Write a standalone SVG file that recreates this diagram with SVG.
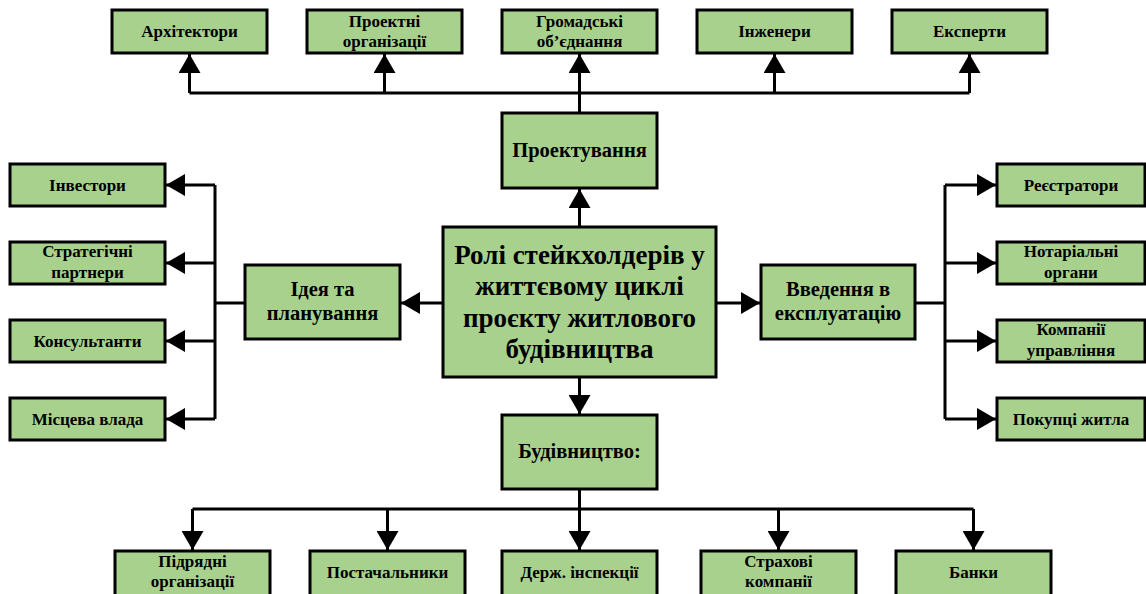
<svg xmlns="http://www.w3.org/2000/svg" width="1146" height="594" viewBox="0 0 1146 594">
<style>
.box{fill:#a9d18e;stroke:#000;stroke-width:3}
.t{font-family:"Liberation Serif","Times New Roman",serif;font-weight:bold;fill:#000;text-anchor:middle}
.s{font-size:17px}
.m{font-size:20.5px}
.c{font-size:27px}
.ln{fill:none;stroke:#000;stroke-width:3}
.ar{fill:none;stroke:#000;stroke-width:3;marker-end:url(#arr)}
</style>
<defs>
<marker id="arr" markerWidth="20" markerHeight="22" refX="19" refY="11" orient="auto" markerUnits="userSpaceOnUse">
<path d="M0,0 L19,11 L0,22 z" fill="#000"/>
</marker>
</defs>
<rect width="1146" height="594" fill="#fff"/>
<g id="connectors">
<path class="ln" d="M579.5,113 V93 M189.5,93 H969.5"/>
<path class="ar" d="M189.5,93 V54"/>
<path class="ar" d="M384.5,93 V54"/>
<path class="ar" d="M579.5,93 V54"/>
<path class="ar" d="M774.5,93 V54"/>
<path class="ar" d="M969.5,93 V54"/>
<path class="ar" d="M579.5,227 V189"/>
<path class="ar" d="M443,303 H401"/>
<path class="ln" d="M245,303 H215 M215,185 V419"/>
<path class="ar" d="M215,185 H166"/>
<path class="ar" d="M215,263 H166"/>
<path class="ar" d="M215,341 H166"/>
<path class="ar" d="M215,419 H166"/>
<path class="ar" d="M716,303 H760"/>
<path class="ln" d="M915,303 H945 M945,185 V419"/>
<path class="ar" d="M945,185 H996"/>
<path class="ar" d="M945,263 H996"/>
<path class="ar" d="M945,341 H996"/>
<path class="ar" d="M945,419 H996"/>
<path class="ar" d="M579.5,377 V414"/>
<path class="ln" d="M579.5,489 V509 M192.5,509 H973.5"/>
<path class="ar" d="M192.5,509 V550"/>
<path class="ar" d="M387.5,509 V550"/>
<path class="ar" d="M579.5,509 V550"/>
<path class="ar" d="M778.5,509 V550"/>
<path class="ar" d="M973.5,509 V550"/>
</g>
<g id="n-center"><rect class="box" x="443" y="227" width="273" height="150"/>
<text class="t c" x="579.5" y="264">Ролі стейкхолдерів у</text>
<text class="t c" x="579.5" y="295">життєвому циклі</text>
<text class="t c" x="579.5" y="327">проєкту житлового</text>
<text class="t c" x="579.5" y="358">будівництва</text></g>
<g id="n-proekt"><rect class="box" x="502" y="113" width="155" height="75"/>
<text class="t m" x="579.5" y="157">Проектування</text></g>
<g id="n-ideia"><rect class="box" x="245" y="265" width="155" height="74"/>
<text class="t m" x="322.5" y="296">Ідея та</text>
<text class="t m" x="322.5" y="320">планування</text></g>
<g id="n-vved"><rect class="box" x="761" y="265" width="154" height="74"/>
<text class="t m" x="838" y="296">Введення в</text>
<text class="t m" x="838" y="320">експлуатацію</text></g>
<g id="n-budiv"><rect class="box" x="502" y="415" width="155" height="74"/>
<text class="t m" x="579.5" y="458">Будівництво:</text></g>
<g id="n-arkh"><rect class="box" x="112" y="10" width="155" height="43"/>
<text class="t s" x="189.5" y="37">Архітектори</text></g>
<g id="n-proektorg"><rect class="box" x="307" y="10" width="155" height="43"/>
<text class="t s" x="384.5" y="27">Проектні</text>
<text class="t s" x="384.5" y="47">організації</text></g>
<g id="n-hromad"><rect class="box" x="502" y="10" width="155" height="43"/>
<text class="t s" x="579.5" y="27">Громадські</text>
<text class="t s" x="579.5" y="47">об’єднання</text></g>
<g id="n-inzh"><rect class="box" x="697" y="10" width="155" height="43"/>
<text class="t s" x="774.5" y="37">Інженери</text></g>
<g id="n-eksp"><rect class="box" x="892" y="10" width="155" height="43"/>
<text class="t s" x="969.5" y="37">Експерти</text></g>
<g id="n-invest"><rect class="box" x="10" y="164" width="155" height="42"/>
<text class="t s" x="87.5" y="191">Інвестори</text></g>
<g id="n-strat"><rect class="box" x="10" y="242" width="155" height="42"/>
<text class="t s" x="87.5" y="257">Стратегічні</text>
<text class="t s" x="87.5" y="278">партнери</text></g>
<g id="n-kons"><rect class="box" x="10" y="320" width="155" height="42"/>
<text class="t s" x="87.5" y="347">Консультанти</text></g>
<g id="n-mists"><rect class="box" x="10" y="398" width="155" height="42"/>
<text class="t s" x="87.5" y="425">Місцева влада</text></g>
<g id="n-reiestr"><rect class="box" x="997" y="164" width="148" height="42"/>
<text class="t s" x="1071" y="191">Реєстратори</text></g>
<g id="n-notar"><rect class="box" x="997" y="242" width="148" height="42"/>
<text class="t s" x="1071" y="257">Нотаріальні</text>
<text class="t s" x="1071" y="278">органи</text></g>
<g id="n-komp"><rect class="box" x="997" y="320" width="148" height="42"/>
<text class="t s" x="1071" y="335">Компанії</text>
<text class="t s" x="1071" y="356">управління</text></g>
<g id="n-pokup"><rect class="box" x="997" y="398" width="148" height="42"/>
<text class="t s" x="1071" y="425">Покупці житла</text></g>
<g id="n-pidr"><rect class="box" x="115" y="551" width="155" height="48"/>
<text class="t s" x="192.5" y="567">Підрядні</text>
<text class="t s" x="192.5" y="587">організації</text></g>
<g id="n-postach"><rect class="box" x="310" y="551" width="155" height="48"/>
<text class="t s" x="387.5" y="578">Постачальники</text></g>
<g id="n-derzh"><rect class="box" x="502" y="551" width="155" height="48"/>
<text class="t s" x="579.5" y="578">Держ. інспекції</text></g>
<g id="n-strakh"><rect class="box" x="701" y="551" width="155" height="48"/>
<text class="t s" x="778.5" y="567">Страхові</text>
<text class="t s" x="778.5" y="587">компанії</text></g>
<g id="n-banky"><rect class="box" x="896" y="551" width="155" height="48"/>
<text class="t s" x="973.5" y="578">Банки</text></g>
</svg>
